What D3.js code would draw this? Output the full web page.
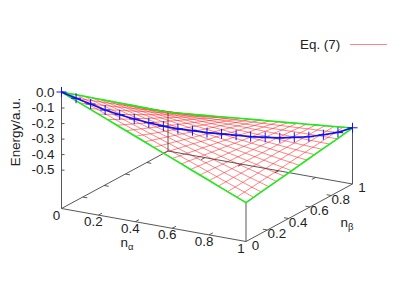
<!DOCTYPE html>
<html><head><meta charset="utf-8">
<script src="https://cdn.jsdelivr.net/npm/d3@7"></script>
<style>html,body{margin:0;padding:0;background:#fff}svg{display:block}text{font-family:"Liberation Sans",Arial,sans-serif;font-size:13.4px;fill:#222}</style>
</head><body><svg id="c" width="415" height="291"></svg>
<script>
const seriesName = "Eq. (7)";
const yTitle = "Energy/a.u.";
const alphaTicks = [0,0.2,0.4,0.6,0.8,1];
const betaTicks = [0,0.2,0.4,0.6,0.8,1];
const energyTicks = [0,-0.1,-0.2,-0.3,-0.4,-0.5];
const alphaSteps = [0,.05,.1,.15,.2,.25,.3,.35,.4,.45,.5,.55,.6,.65,.7,.75,.8,.85,.9,.95,1];
const betaSteps = [0,.0714,.1429,.2143,.2857,.3571,.4286,.5,.5714,.6429,.7143,.7857,.8571,.9286,1];
const surface = [
[0,-.036,-.071,-.107,-.143,-.179,-.214,-.25,-.286,-.321,-.357,-.393,-.429,-.464,-.5],
[-.025,-.059,-.092,-.126,-.159,-.193,-.226,-.26,-.293,-.327,-.36,-.394,-.427,-.461,-.495],
[-.05,-.081,-.113,-.144,-.175,-.207,-.238,-.27,-.301,-.332,-.364,-.395,-.426,-.458,-.489],
[-.075,-.104,-.133,-.163,-.192,-.221,-.25,-.279,-.308,-.338,-.367,-.396,-.425,-.454,-.484],
[-.1,-.127,-.154,-.181,-.208,-.235,-.262,-.289,-.316,-.343,-.37,-.397,-.424,-.451,-.478],
[-.125,-.15,-.175,-.199,-.224,-.249,-.274,-.299,-.324,-.348,-.373,-.398,-.423,-.448,-.473],
[-.15,-.173,-.195,-.218,-.241,-.263,-.286,-.308,-.331,-.354,-.376,-.399,-.422,-.444,-.467],
[-.175,-.195,-.216,-.236,-.257,-.277,-.298,-.318,-.339,-.359,-.38,-.4,-.421,-.441,-.462],
[-.2,-.218,-.237,-.255,-.273,-.291,-.31,-.328,-.346,-.365,-.383,-.401,-.419,-.438,-.456],
[-.225,-.241,-.257,-.273,-.289,-.306,-.322,-.338,-.354,-.37,-.386,-.402,-.418,-.434,-.451],
[-.25,-.264,-.278,-.292,-.306,-.32,-.334,-.348,-.361,-.375,-.389,-.403,-.417,-.431,-.445],
[-.275,-.287,-.299,-.31,-.322,-.334,-.346,-.357,-.369,-.381,-.393,-.404,-.416,-.428,-.44],
[-.3,-.31,-.319,-.329,-.338,-.348,-.357,-.367,-.377,-.386,-.396,-.405,-.415,-.424,-.434],
[-.325,-.332,-.34,-.347,-.355,-.362,-.369,-.377,-.384,-.392,-.399,-.406,-.414,-.421,-.429],
[-.35,-.355,-.36,-.366,-.371,-.376,-.381,-.386,-.392,-.397,-.402,-.407,-.413,-.418,-.423],
[-.375,-.378,-.381,-.384,-.387,-.39,-.393,-.396,-.399,-.402,-.405,-.408,-.411,-.415,-.418],
[-.4,-.401,-.402,-.403,-.403,-.404,-.405,-.406,-.407,-.408,-.409,-.409,-.41,-.411,-.412],
[-.425,-.424,-.422,-.421,-.42,-.418,-.417,-.416,-.414,-.413,-.412,-.41,-.409,-.408,-.407],
[-.45,-.447,-.443,-.44,-.436,-.433,-.429,-.426,-.422,-.419,-.415,-.412,-.408,-.405,-.401],
[-.475,-.469,-.464,-.458,-.452,-.447,-.441,-.435,-.43,-.424,-.418,-.413,-.407,-.401,-.395],
[-.5,-.492,-.484,-.476,-.469,-.461,-.453,-.445,-.437,-.429,-.421,-.414,-.406,-.398,-.39]
];
const diagonalN = [0,.05,.1,.15,.2,.25,.3,.35,.4,.45,.5,.55,.6,.65,.7,.75,.8,.85,.9,.95,1];
const diagonalE = [0,-.048,-.093,-.14,-.178,-.213,-.245,-.275,-.3,-.32,-.34,-.356,-.373,-.39,-.402,-.413,-.418,-.422,-.417,-.41,-.388];

const svg = d3.select("#c");
const ax = d3.scaleLinear([0,1],[0,184.5]), ay = d3.scaleLinear([0,1],[0,33]);
const bx = d3.scaleLinear([0,1],[0,106.5]), by = d3.scaleLinear([0,1],[0,-57.5]);
const zy = d3.scaleLinear([0,-0.75],[92,208.5]);
const P = (a,b,z) => [61.5+ax(a)+bx(b), zy(z)+ay(a)+by(b)];
const line = d3.line();
const dark = "#444";
const lastA = alphaSteps.length-1, lastB = betaSteps.length-1;

// frame
const base = [[0,0],[1,0],[1,1],[0,1],[0,0]].map(([a,b])=>P(a,b,-0.75));
svg.append("path").attr("d",line(base)).attr("fill","none").attr("stroke",dark).attr("stroke-width",.9);
[[0,0],[1,0],[1,1],[0,1]].forEach(([a,b])=>{
  const k = surface[a*lastA][b*lastB];
  svg.append("line").attr("stroke",dark).attr("stroke-width",.9)
    .attr("x1",P(a,b,k)[0]).attr("y1",P(a,b,k)[1]).attr("x2",P(a,b,-0.75)[0]).attr("y2",P(a,b,-0.75)[1]);
});
// base ticks
const tk = 0.035;
alphaTicks.slice(1,-1).forEach(t=>{
  [[t,0,t,tk],[t,1,t,1-tk]].forEach(s=>{
    const p=P(s[0],s[1],-0.75),q=P(s[2],s[3],-0.75);
    svg.append("path").attr("d",line([p,q])).attr("stroke",dark).attr("stroke-width",.9);
  });
});
betaTicks.slice(1,-1).forEach(t=>{
  [[0,t,tk*.7,t],[1,t,1-tk*.7,t]].forEach(s=>{
    const p=P(s[0],s[1],-0.75),q=P(s[2],s[3],-0.75);
    svg.append("path").attr("d",line([p,q])).attr("stroke",dark).attr("stroke-width",.9);
  });
});
// z axis
const zAxis = d3.axisLeft(d3.scaleLinear([0,-0.5],[zy(0),zy(-0.5)])).tickValues(energyTicks)
  .tickSizeInner(-3).tickSizeOuter(0).tickPadding(7).tickFormat(d=>d3.format(".1f")(d).replace("\u2212","-"));
const gz = svg.append("g").attr("transform","translate(61.5,0)").call(zAxis);
gz.select(".domain").attr("stroke","none");
gz.selectAll(".tick line").attr("stroke",dark).attr("stroke-width",.9);
gz.attr("font-size",null).attr("font-family",null);

// mesh
const mesh = svg.append("g").attr("fill","none").attr("stroke","#ff0000").attr("stroke-width",.95).attr("stroke-opacity",.5);
alphaSteps.forEach((a,i)=>{
  mesh.append("path").attr("d",line(betaSteps.map((b,j)=>P(a,b,surface[i][j]))));
});
betaSteps.forEach((b,j)=>{
  mesh.append("path").attr("d",line(alphaSteps.map((a,i)=>P(a,b,surface[i][j]))));
});
// edges
const edges = svg.append("g").attr("fill","none").attr("stroke","#18ee18").attr("stroke-width",1.6);
edges.append("path").attr("d",line(betaSteps.map((b,j)=>P(0,b,surface[0][j]))));
edges.append("path").attr("d",line(betaSteps.map((b,j)=>P(1,b,surface[lastA][j]))));
edges.append("path").attr("d",line(alphaSteps.map((a,i)=>P(a,0,surface[i][0]))));
edges.append("path").attr("d",line(alphaSteps.map((a,i)=>P(a,1,surface[i][lastB]))));
// diagonal
const diag = diagonalN.map((n,i)=>P(n,n,diagonalE[i]));
svg.append("path").attr("d",line(diag)).attr("fill","none").attr("stroke","#1010f0").attr("stroke-width",1.7);
svg.append("g").selectAll("path").data(diag).join("path")
  .attr("d",d=>`M${d[0]-5},${d[1]}H${d[0]+5}M${d[0]},${d[1]-5}V${d[1]+5}`)
  .attr("stroke","#1010f0").attr("stroke-width",1).attr("fill","none");

// labels
const lab = (x,y,s)=>svg.append("text").attr("x",x).attr("y",y).attr("text-anchor","middle").attr("dominant-baseline","central").text(s);
alphaTicks.forEach(t=>{const p=P(t,0,-0.75); lab(p[0]-5,p[1]+6.5,String(t));});
betaTicks.forEach(t=>{const p=P(1,t,-0.75); lab(p[0]+9.5,p[1]+3.5,String(t));});
const sub=(x,y,a,b)=>{const t=svg.append("text").attr("x",x).attr("y",y).attr("text-anchor","middle").attr("dominant-baseline","central");
  t.append("tspan").text(a); t.append("tspan").attr("dy",3.5).style("font-size","9.5px").text(b);};
sub(127,242,"n","α");
sub(347,222,"n","β");
svg.append("text").attr("transform","translate(15,132) rotate(-90)").attr("text-anchor","middle").attr("dominant-baseline","central").text(yTitle);
// legend
svg.append("text").attr("x",300).attr("y",44).attr("dominant-baseline","central").text(seriesName);
svg.append("line").attr("x1",350).attr("x2",387).attr("y1",44.5).attr("y2",44.5).attr("stroke","#ff0000").attr("stroke-width",.95).attr("stroke-opacity",.5);
</script></body></html>
